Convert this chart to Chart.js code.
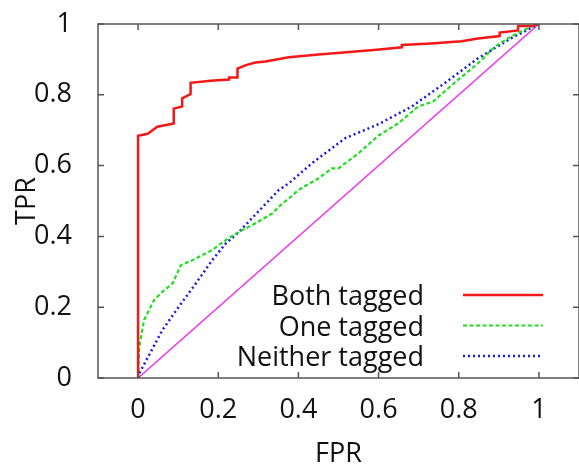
<!DOCTYPE html>
<html>
<head>
<meta charset="utf-8">
<script src="https://cdn.jsdelivr.net/npm/chart.js@4"></script>
<style>
  html, body { margin: 0; padding: 0; background: #fff; }
  #wrap { width: 579px; height: 467px; }
</style>
</head>
<body>
<div id="wrap"><canvas id="roc"></canvas></div>
<script>
// tick values
var xTicks = [0, 0.2, 0.4, 0.6, 0.8, 1];
var yTicks = [0, 0.2, 0.4, 0.6, 0.8, 1];

// Both tagged (stepped)
var bothX = [0, 0, 0.024, 0.048, 0.089, 0.089, 0.11, 0.11, 0.131, 0.131, 0.181, 0.227, 0.227, 0.248, 0.248, 0.269, 0.293, 0.318, 0.376, 0.45, 0.52, 0.602, 0.658, 0.658, 0.73, 0.807, 0.848, 0.902, 0.902, 0.948, 0.948, 0.98, 1];
var bothY = [0, 0.684, 0.69, 0.71, 0.719, 0.761, 0.767, 0.79, 0.802, 0.834, 0.84, 0.843, 0.849, 0.849, 0.874, 0.884, 0.891, 0.894, 0.906, 0.914, 0.92, 0.928, 0.934, 0.941, 0.945, 0.951, 0.959, 0.966, 0.976, 0.982, 0.994, 0.994, 1];

// One tagged
var oneX = [0, 0.003, 0.015, 0.04, 0.061, 0.086, 0.107, 0.136, 0.157, 0.186, 0.202, 0.226, 0.252, 0.293, 0.335, 0.351, 0.376, 0.4, 0.45, 0.483, 0.5, 0.55, 0.6, 0.65, 0.699, 0.736, 0.765, 0.799, 0.848, 0.89, 0.931, 0.972, 1];
var oneY = [0, 0.088, 0.164, 0.22, 0.244, 0.267, 0.319, 0.333, 0.345, 0.362, 0.376, 0.395, 0.413, 0.437, 0.465, 0.484, 0.507, 0.531, 0.564, 0.592, 0.592, 0.635, 0.685, 0.72, 0.767, 0.781, 0.81, 0.843, 0.889, 0.936, 0.965, 0.988, 1];

// Neither tagged
var neitherX = [0, 0.003, 0.061, 0.102, 0.144, 0.185, 0.219, 0.252, 0.351, 0.376, 0.433, 0.516, 0.6, 0.683, 0.765, 0.848, 0.931, 1];
var neitherY = [0, 0.013, 0.136, 0.202, 0.267, 0.333, 0.38, 0.413, 0.531, 0.55, 0.606, 0.677, 0.717, 0.767, 0.833, 0.903, 0.96, 1];

// random-guess diagonal
var diagX = [0, 1];
var diagY = [0, 1];

function pts(xs, ys) {
    return xs.map(function (x, i) { return { x: x, y: ys[i] }; });
}

var FONT = "'Open Sans', 'DejaVu Sans', sans-serif";
var FSIZE = 27;

// inward ticks on all four sides + frame
var frameTicks = {
    id: 'frameTicks',
    afterDatasetsDraw: function (chart) {
        var c = chart.ctx, a = chart.chartArea;
        var xs = chart.scales.x, ys = chart.scales.y;
        var len = 6;
        c.save();
        c.strokeStyle = '#555';
        c.lineWidth = 1.5;
        c.strokeRect(a.left, a.top, a.right - a.left, a.bottom - a.top);
        c.beginPath();
        xTicks.forEach(function (v) {
            var px = xs.getPixelForValue(v);
            c.moveTo(px, a.bottom); c.lineTo(px, a.bottom - len);
            c.moveTo(px, a.top); c.lineTo(px, a.top + len);
        });
        yTicks.forEach(function (v) {
            var py = ys.getPixelForValue(v);
            c.moveTo(a.left, py); c.lineTo(a.left + len, py);
            c.moveTo(a.right, py); c.lineTo(a.right - len, py);
        });
        c.stroke();
        c.restore();
    }
};

// gnuplot style key: text right aligned, sample line to the right
var keyBox = {
    id: 'keyBox',
    afterDatasetsDraw: function (chart) {
        var c = chart.ctx;
        var textRight = 424, lineL = 463, lineR = 543, base0 = 305, dy = 30.5;
        c.save();
        c.font = FSIZE + 'px ' + FONT;
        c.textAlign = 'right';
        c.textBaseline = 'alphabetic';
        var row = 0;
        chart.data.datasets.forEach(function (ds) {
            if (!ds.label) return;
            var y = base0 + row * dy;
            c.fillStyle = '#111';
            c.fillText(ds.label, textRight, y);
            c.strokeStyle = ds.borderColor;
            c.lineWidth = ds.borderWidth;
            c.setLineDash(ds.borderDash || []);
            c.beginPath();
            c.moveTo(lineL, y - 10); c.lineTo(lineR, y - 10);
            c.stroke();
            row++;
        });
        c.restore();
    }
};

new Chart(document.getElementById('roc').getContext('2d'), {
    type: 'line',
    data: {
        datasets: [{
            label: 'Both tagged',
            data: pts(bothX, bothY),
            borderColor: '#f41818',
            borderWidth: 2.5,
            pointRadius: 0,
            tension: 0,
            fill: false
        }, {
            label: 'One tagged',
            data: pts(oneX, oneY),
            borderColor: '#22dd22',
            borderWidth: 2.2,
            borderDash: [4, 2.5],
            pointRadius: 0,
            tension: 0,
            fill: false
        }, {
            label: 'Neither tagged',
            data: pts(neitherX, neitherY),
            borderColor: '#1a1adc',
            borderWidth: 2.5,
            borderDash: [2, 3],
            pointRadius: 0,
            tension: 0,
            fill: false
        }, {
            label: '',
            data: pts(diagX, diagY),
            borderColor: '#ee33ee',
            borderWidth: 1.5,
            pointRadius: 0,
            tension: 0,
            fill: false
        }]
    },
    options: {
        responsive: true,
        maintainAspectRatio: false,
        animation: false,
        layout: { padding: { top: 24, right: 0, bottom: 0, left: 0 } },
        plugins: {
            legend: { display: false },
            tooltip: { enabled: false }
        },
        scales: {
            x: {
                type: 'linear',
                min: -0.1,
                max: 1.1,
                afterBuildTicks: function (s) { s.ticks = xTicks.map(function (v) { return { value: v }; }); },
                afterFit: function (s) { s.height = 89; s.paddingLeft = 0; s.paddingRight = 0; },
                grid: { display: false, drawTicks: false },
                border: { display: false },
                ticks: {
                    color: '#111',
                    padding: 16,
                    maxRotation: 0,
                    font: { size: FSIZE, family: FONT },
                    callback: function (v) { return String(v); }
                },
                title: {
                    display: true,
                    text: 'FPR',
                    color: '#111',
                    font: { size: FSIZE, family: FONT },
                    padding: { top: 0, bottom: -4 }
                }
            },
            y: {
                type: 'linear',
                min: 0,
                max: 1,
                afterBuildTicks: function (s) { s.ticks = yTicks.map(function (v) { return { value: v }; }); },
                afterFit: function (s) { s.width = 98; s.paddingTop = 0; s.paddingBottom = 0; },
                grid: { display: false, drawTicks: false },
                border: { display: false },
                ticks: {
                    color: '#111',
                    padding: 26,
                    font: { size: FSIZE, family: FONT },
                    callback: function (v) { return String(v); }
                },
                title: {
                    display: true,
                    text: 'TPR',
                    color: '#111',
                    font: { size: FSIZE, family: FONT },
                    padding: { top: 11, bottom: 0 }
                }
            }
        }
    },
    plugins: [frameTicks, keyBox]
});
</script>
</body>
</html>
